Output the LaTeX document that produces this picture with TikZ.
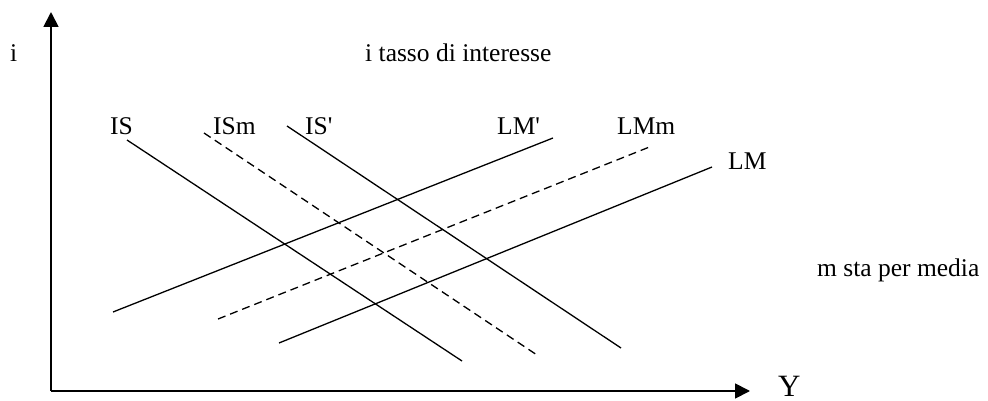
\documentclass[tikz,border=0pt]{standalone}
\usepackage{fontspec}
\setmainfont{Liberation Serif}
\usetikzlibrary{arrows.meta}
\begin{document}
\begin{tikzpicture}[x=1pt,y=-1pt,
  axis/.style={line width=1.8pt,-{Triangle[length=15pt,width=15pt]}},
  curve/.style={line width=1.3pt},
  dcurve/.style={line width=1.3pt,dash pattern=on 8pt off 5pt},
  lbl/.style={anchor=base west,inner sep=0pt,font=\fontsize{25.5}{28}\selectfont},
  biglbl/.style={anchor=base west,inner sep=0pt,font=\fontsize{31}{33}\selectfont}]
\useasboundingbox (0,0) rectangle (988,401);
% axes
\coordinate (O) at (51,391);
\coordinate (ytop) at (51,12);
\coordinate (xend) at (750,391);
\draw[axis] (O) -- (ytop);
\draw[axis] (O) -- (xend);
% curve endpoints
\coordinate (IS1) at (127,140);  \coordinate (IS2) at (462,361);
\coordinate (ISm1) at (204,133); \coordinate (ISm2) at (537,355);
\coordinate (ISp1) at (287,126); \coordinate (ISp2) at (621,348);
\coordinate (LMp1) at (113,312); \coordinate (LMp2) at (553,138);
\coordinate (LMm1) at (218,319); \coordinate (LMm2) at (652,146);
\coordinate (LM1) at (279,343);  \coordinate (LM2) at (712,167);
\draw[curve] (IS1) -- (IS2);
\draw[dcurve] (ISm1) -- (ISm2);
\draw[curve] (ISp1) -- (ISp2);
\draw[curve] (LMp1) -- (LMp2);
\draw[dcurve] (LMm1) -- (LMm2);
\draw[curve] (LM1) -- (LM2);
% labels
\node[lbl] (li) at (10,62) {i};
\node[lbl] (ltasso) at (365,62) {i tasso di interesse};
\node[lbl] (lIS) at (110,135) {IS};
\node[lbl] (lISm) at (213,135) {ISm};
\node[lbl] (lISp) at (305,135) {IS\textquotesingle};
\node[lbl] (lLMp) at (497,135) {LM\textquotesingle};
\node[lbl] (lLMm) at (617,135) {LMm};
\node[lbl] (lLM) at (728,170) {LM};
\node[lbl] (lmedia) at (817,276) {m sta per media};
\node[biglbl] (lY) at (778,396) {Y};
\end{tikzpicture}
\end{document}
